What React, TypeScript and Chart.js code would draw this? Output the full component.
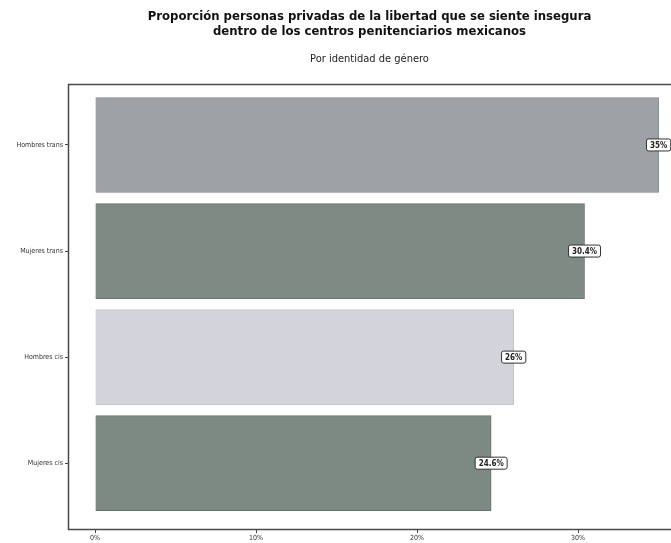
import React, { useEffect, useRef } from "react";
import { Chart, registerables } from "chart.js";

Chart.register(...registerables);

const categories = ["Hombres trans", "Mujeres trans", "Hombres cis", "Mujeres cis"];
const values = [35, 30.4, 26, 24.6];
const valueLabels = ["35%", "30.4%", "26%", "24.6%"];
const xTicks = [0, 10, 20, 30];
const barColors = ["#9ea2a7", "#7f8a84", "#d3d3db", "#7d8983"];
const barBorders = ["#7d8084", "#6a736e", "#c4c4cc", "#67716c"];

const NARROW = '"Liberation Sans Narrow", "DejaVu Sans Condensed", "Roboto", sans-serif';

const framePlugin = {
  id: "frame",
  afterDraw(chart: any) {
    const { ctx, chartArea } = chart;
    ctx.save();
    ctx.strokeStyle = "#4a4a4a";
    ctx.lineWidth = 1.5;
    ctx.beginPath();
    ctx.moveTo(chartArea.right, chartArea.top + 0.5);
    ctx.lineTo(chartArea.left + 0.5, chartArea.top + 0.5);
    ctx.lineTo(chartArea.left + 0.5, chartArea.bottom - 0.5);
    ctx.lineTo(chartArea.right, chartArea.bottom - 0.5);
    ctx.stroke();
    ctx.restore();
  },
};

const labelPlugin = {
  id: "valueLabels",
  afterDatasetsDraw(chart: any) {
    const { ctx } = chart;
    const meta = chart.getDatasetMeta(0);
    ctx.save();
    ctx.font = `bold 8px ${NARROW}`;
    ctx.textAlign = "center";
    ctx.textBaseline = "middle";
    meta.data.forEach((bar: any, i: number) => {
      const text = valueLabels[i];
      const w = ctx.measureText(text).width + 7;
      const h = 12;
      const x = bar.x;
      const y = bar.y;
      ctx.fillStyle = "#ffffff";
      ctx.strokeStyle = "#333333";
      ctx.lineWidth = 1;
      ctx.beginPath();
      (ctx as any).roundRect(x - w / 2, y - h / 2, w, h, 2);
      ctx.fill();
      ctx.stroke();
      ctx.fillStyle = "#222222";
      ctx.fillText(text, x, y + 0.5);
    });
    ctx.restore();
  },
};

export default function App() {
  const ref = useRef<HTMLCanvasElement | null>(null);

  useEffect(() => {
    if (!ref.current) return;
    const chart = new Chart(ref.current, {
      type: "bar",
      data: {
        datasets: [
          {
            data: values.map((v, i) => ({ x: v, y: i })) as any,
            backgroundColor: barColors,
            borderColor: barBorders,
            borderWidth: 1,
            barThickness: 95,
          },
        ],
      },
      options: {
        indexAxis: "y",
        animation: false,
        responsive: true,
        maintainAspectRatio: false,
        layout: { padding: { left: 0, right: 0, top: 0, bottom: 0 } },
        plugins: {
          legend: { display: false },
          tooltip: { enabled: false },
          title: {
            display: true,
            fullSize: false,
            text: [
              "Proporción personas privadas de la libertad que se siente insegura",
              "dentro de los centros penitenciarios mexicanos",
            ],
            color: "#111111",
            font: { family: NARROW, size: 13, weight: "bold", lineHeight: 1.15 },
            padding: { top: 9, bottom: 6 },
          },
          subtitle: {
            display: true,
            fullSize: false,
            text: "Por identidad de género",
            color: "#222222",
            font: { family: NARROW, size: 11, lineHeight: 1.2 },
            padding: { top: 8, bottom: 18 },
          },
        },
        scales: {
          x: {
            type: "linear",
            min: -1.68,
            max: 35.77,
            afterBuildTicks: (scale: any) => {
              scale.ticks = xTicks.map((v) => ({ value: v }));
            },
            afterFit: (scale: any) => {
              scale.height = 13;
            },
            grid: { display: true, drawOnChartArea: false, drawTicks: true, tickLength: 3, color: "#444444" },
            border: { display: false },
            ticks: {
              color: "#333333",
              padding: 1,
              font: { family: NARROW, size: 7 },
              callback: (v: any) => `${v}%`,
            },
          },
          y: {
            type: "linear",
            reverse: true,
            offset: false,
            min: -0.574,
            max: 3.63,
            afterBuildTicks: (scale: any) => {
              scale.ticks = categories.map((_, i) => ({ value: i }));
            },
            afterFit: (scale: any) => {
              scale.width = 68;
            },
            grid: { display: true, offset: false, drawOnChartArea: false, drawTicks: true, tickLength: 3, color: "#444444" },
            border: { display: false },
            ticks: {
              color: "#333333",
              padding: 2,
              font: { family: NARROW, size: 7 },
              callback: (v: any) => categories[v as number] ?? "",
            },
          },
        },
      },
      plugins: [framePlugin, labelPlugin],
    });
    return () => chart.destroy();
  }, []);

  return (
    <div style={{ position: "fixed", left: 0, top: 0, width: 671, height: 543, background: "#ffffff" }}>
      <canvas ref={ref} />
    </div>
  );
}
